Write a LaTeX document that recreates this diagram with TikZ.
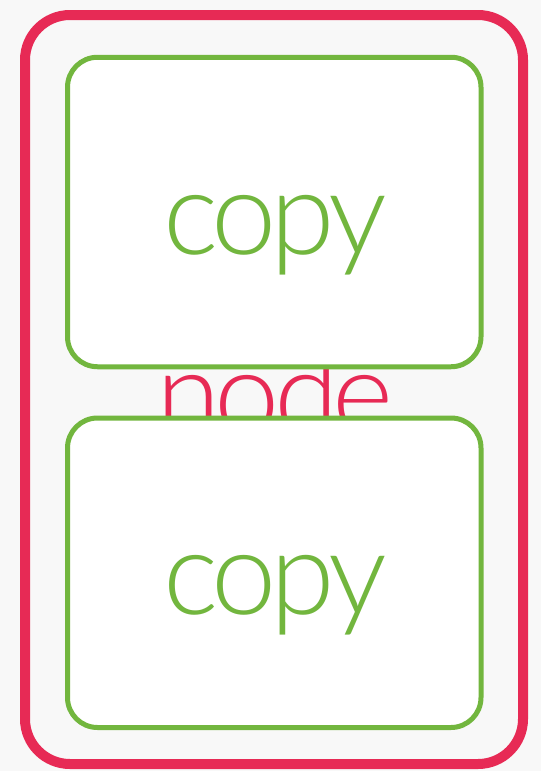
\documentclass[tikz,border=0pt]{standalone}
\usepackage{fontspec}
\setmainfont{Lato Light}[LetterSpace=-5]
\definecolor{bgc}{HTML}{F8F8F8}
\definecolor{redc}{HTML}{E72A55}
\definecolor{greenc}{HTML}{72B63E}
\tikzset{
  outerbox/.style={draw=redc, line width=10pt, rounded corners=45pt, rectangle, inner sep=0pt},
  copybox/.style={draw=greenc, fill=white, line width=5pt, rounded corners=30pt, rectangle, inner sep=0pt,
                  minimum width=413.5pt, minimum height=309.5pt},
  bigtext/.style={font=\fontsize{117}{122}\selectfont, inner sep=0pt, anchor=base},
}
\begin{document}
\begin{tikzpicture}[x=1pt,y=-1pt]
  % page background
  \fill[bgc] (0,0) rectangle (541,771);
  \useasboundingbox (0,0) rectangle (541,771);
  % outer node frame and its label
  \node[outerbox, minimum width=498pt, minimum height=749pt] (outer) at (274,389.5) {};
  \node[bigtext, text=redc] (nodelabel) at (275,434) {node};
  % the two copies
  \node[copybox] (copyA) at (274.25,212) {};
  \node[bigtext, text=greenc] (copyAtext) at (275,254) {copy};
  \node[copybox] (copyB) at (274.25,572.75) {};
  \node[bigtext, text=greenc] (copyBtext) at (275,614) {copy};
\end{tikzpicture}
\end{document}
